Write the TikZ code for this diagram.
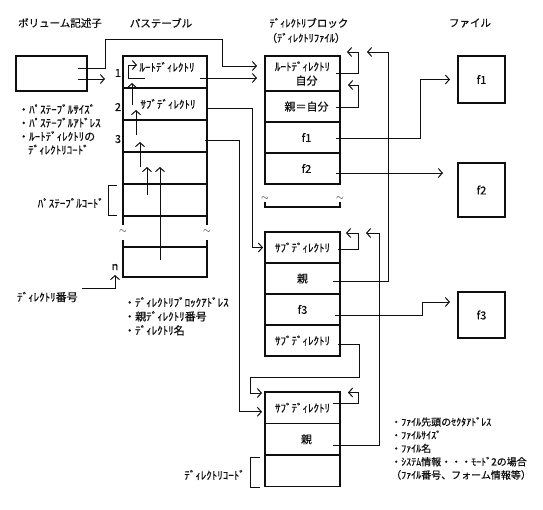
\documentclass[tikz,border=0pt]{standalone}
\usepackage{fontspec}
\setmainfont{Noto Sans CJK JP}[FakeBold=0.6, AutoFakeBold=0.6]
\usepackage{xcolor}
\usepackage{tikz}
\usetikzlibrary{arrows.meta, positioning, calc}
\definecolor{inkblack}{RGB}{15,15,15}
\newcommand{\lblfont}{\fontsize{11}{13.5}\selectfont\bfseries}
\newcommand{\titlefont}{\fontsize{10.5}{13}\selectfont\bfseries}
\tikzset{
  rim/.style={draw=inkblack, line width=1.1pt},
  tbl/.style={rim, shape=rectangle, outer sep=0pt, inner sep=0pt,
    text=inkblack, font=\lblfont},
  ptrow/.style={tbl, minimum width=84pt, minimum height=32pt},
  dirrow/.style={tbl, minimum width=75pt, minimum height=31pt},
  filebox/.style={tbl, minimum width=47pt, minimum height=47pt},
  title/.style={font=\titlefont, text=inkblack, inner sep=0pt},
  lbl/.style={font=\lblfont, text=inkblack, inner sep=0pt},
  notes/.style={lbl, align=left, anchor=north west},
  squig/.style={inner sep=0pt, text=inkblack},
  link/.style={line width=1pt, color=inkblack},
  ptr/.style={link, -{Straight Barb[length=4pt, width=9pt]}},
}

\begin{document}
\begin{tikzpicture}[x=1pt, y=-1pt]
  \useasboundingbox (0,0) rectangle (543,509);
  % headings
  \node[title] (hvol) at (60,23) {ボリューム記述子};
  \node[title] (hpt) at (161,23) {パステーブル};
  \node[title] (hdir) at (309,23) {ﾃﾞｨﾚｸﾄﾘブロック};
  \node[title] (hdirsub) at (306,38) {（ﾃﾞｨﾚｸﾄﾘﾌｧｲﾙ）};
  \node[title] (hfile) at (470,23) {ファイル};

  % volume descriptor
  \node[tbl, minimum width=71pt, minimum height=35pt, anchor=north west] (vol) at (16,56) {};
  \node[notes, font=\fontsize{11}{13.5}\selectfont\bfseries] (volnote) at (18,104)
    {・ﾊﾟｽﾃｰﾌﾞﾙｻｲｽﾞ\\・ﾊﾟｽﾃｰﾌﾞﾙｱﾄﾞﾚｽ\\・ﾙｰﾄﾃﾞｨﾚｸﾄﾘの\\\hspace*{10pt}ﾃﾞｨﾚｸﾄﾘｺｰﾄﾞ};

  % path table
  \node[ptrow, anchor=north west] (pt1) at (123,56) {};
  \node[ptrow, below=0pt of pt1] (pt2) {\hspace*{6pt}ｻﾌﾞﾃﾞｨﾚｸﾄﾘ};
  \node[ptrow, below=0pt of pt2] (pt3) {};
  \node[ptrow, below=0pt of pt3] (pt4) {};
  \node[ptrow, below=0pt of pt4] (pt5) {};
  \node[ptrow, minimum height=30pt, anchor=north west] (ptn) at (123,247) {};
  \node[lbl] (ptroot) at (167,67) {ﾙｰﾄﾃﾞｨﾚｸﾄﾘ};
  \draw[rim] (pt5.south west) -- ++(0,9);
  \draw[rim] (pt5.south east) -- ++(0,9);
  \draw[rim] (ptn.north west) -- ++(0,-7);
  \draw[rim] (ptn.north east) -- ++(0,-7);
  \node[squig] (sqa) at (123,232) {$\sim$};
  \node[squig] (sqb) at (207,232) {$\sim$};
  \node[lbl] (no1) at ($(pt1.west)+(-5,1)$) {1};
  \node[lbl] (no2) at ($(pt2.west)+(-5,3)$) {2};
  \node[lbl] (no3) at ($(pt3.west)+(-5,3)$) {3};
  \node[lbl] (non) at ($(ptn.south west)+(-8,-10)$) {n};
  \draw[rim, line width=1pt] ($(pt5.north west)+(-6,1)$) -- ++(-9,0) -- ++(0,30) -- ++(9,0);
  \node[lbl, anchor=east] (ptcode) at (104,203) {ﾊﾟｽﾃｰﾌﾞﾙｺｰﾄﾞ};
  \node[lbl, anchor=west] (dirnum) at (17,297) {ﾃﾞｨﾚｸﾄﾘ番号};
  \node[notes, font=\fontsize{11}{14}\selectfont\bfseries] (ptnote) at (124,297)
    {・ﾃﾞｨﾚｸﾄﾘﾌﾞﾛｯｸｱﾄﾞﾚｽ\\・親ﾃﾞｨﾚｸﾄﾘ番号\\・ﾃﾞｨﾚｸﾄﾘ名};

  % parent chain inside the path table
  \draw[ptr] ($(pt1.north west)+(22,22)$) -| ($(pt1.north west)+(5,9)$) -- ++(9,0);
  \draw[ptr] ($(pt2.north west)+(9,17)$) -- ($(pt1.south west)+(9,-5)$);
  \draw[ptr] ($(pt3.north west)+(13,15)$) -- ($(pt2.south west)+(13,-10)$);
  \draw[ptr] ($(pt4.north west)+(17,15)$) -- ($(pt3.south west)+(17,-10)$);
  \draw[ptr] ($(pt5.north west)+(24,11)$) -- ($(pt4.south west)+(24,-17)$);
  \draw[ptr] ($(ptn.north west)+(37,13)$) -- ($(pt4.south west)+(37,-17)$);
  \draw[ptr] ($(dirnum.east)+(4,-9)$) -| ($(ptn.south west)+(-8,-2)$);

  % directory blocks
  \node[dirrow, minimum height=35pt, align=center, anchor=north west,
    font=\fontsize{11}{14}\selectfont\bfseries] (dr1) at (265,56) {ﾙｰﾄﾃﾞｨﾚｸﾄﾘ\\\hspace*{8pt}自分};
  \node[dirrow, below=0pt of dr1] (dr2) {\hspace*{8pt}親＝自分};
  \node[dirrow, below=0pt of dr2] (dr3) {\hspace*{8pt}f1};
  \node[dirrow, below=0pt of dr3] (dr4) {\hspace*{8pt}f2};
  \node[squig] (sqc) at ($(dr4.south west)+(0,15)$) {$\sim$};
  \node[squig] (sqd) at ($(dr4.south east)+(0,15)$) {$\sim$};
  \draw[rim] ($(dr4.south west)+(0,18)$) -- ++(0,5) -| ($(dr4.south east)+(0,18)$);

  \node[dirrow, anchor=north west] (md1) at (265,232) {ｻﾌﾞﾃﾞｨﾚｸﾄﾘ};
  \node[dirrow, below=0pt of md1] (md2) {親};
  \node[dirrow, below=0pt of md2] (md3) {f3};
  \node[dirrow, below=0pt of md3] (md4) {ｻﾌﾞﾃﾞｨﾚｸﾄﾘ};

  \node[dirrow, minimum height=31.5pt, anchor=north west] (bt1) at (265,392) {ｻﾌﾞﾃﾞｨﾚｸﾄﾘ};
  \node[dirrow, minimum height=31.5pt, below=0pt of bt1] (bt2) {\hspace*{8pt}親};
  \node[dirrow, minimum height=31.5pt, below=0pt of bt2] (bt3) {};
  \draw[rim, line width=1pt] ($(bt3.north west)+(-5,2)$) -- ++(-10,0) -- ++(0,30) -- ++(10,0);
  \node[lbl, anchor=east] (dircode) at (245,475) {ﾃﾞｨﾚｸﾄﾘｺｰﾄﾞ};
  \node[notes, font=\fontsize{10}{13.25}\selectfont\bfseries] (filenote) at (391,417)
    {・ﾌｧｲﾙ先頭のｾｸﾀｱﾄﾞﾚｽ\\・ﾌｧｲﾙｻｲｽﾞ\\・ﾌｧｲﾙ名\\・ｼｽﾃﾑ情報・・・ﾓｰﾄﾞ2の場合\\（ﾌｧｲﾙ番号、フォーム情報等）};

  % files
  \node[filebox, anchor=north west] (file1) at (458,56) {f1};
  \node[filebox, minimum height=54pt, anchor=north west] (file2) at (458,163) {f2};
  \node[filebox, minimum height=46pt, anchor=north west] (file3) at (458,292) {f3};

  % pointers from descriptor and path table
  \draw[ptr] ($(vol.north east)+(-9,12)$) -- ++(27,0) -- ++(0,-29)
    -| ($(dr1.north west)+(-43,10)$) -- ($(dr1.north west)+(-8,10)$);
  \draw[ptr] ($(vol.north east)+(-9,23)$) -- ++(27,0);
  \draw[ptr] ($(pt1.north east)+(-7,22)$) -- ($(dr1.north west)+(-8,22)$);
  \draw[ptr] ($(pt2.east)+(0,4)$) -| ($(md1.west)+(-13,0)$) -- ($(md1.west)+(-2,0)$);
  \draw[ptr] ($(pt3.east)+(-2,4)$) -| ($(bt1.west)+(-26,4)$) -- ($(bt1.west)+(-3,4)$);

  % pointers between directory records
  \draw[ptr] ($(dr1.east)+(-4,0)$) -- ++(22,0) |- ($(dr1.north east)+(7,-4)$);
  \draw[ptr] ($(dr2.east)+(-4,0.5)$) -- ++(22,0) |- ($(dr2.north east)+(8,-6)$);
  \draw[ptr] ($(md1.east)+(-2,1.5)$) -- ++(20,0) |- ($(md1.north east)+(6,1)$);
  \draw[ptr] ($(md2.east)+(-7,2.5)$) -- ++(55,0) |- ($(dr1.north east)+(27,-4)$);
  \draw[ptr] ($(md4.east)+(-2,4)$) -- ++(21,0) -- ++(0,33)
    -| ($(bt1.north west)+(-15,1)$) -- ($(bt1.north west)+(-3,1)$);
  \draw[ptr] ($(bt1.east)+(-7,-4.75)$) -- ++(25,0) |- ($(bt1.north east)+(8,0.5)$);
  \draw[ptr] ($(bt2.east)+(-7,6)$) -- ++(46,0) |- ($(md1.north east)+(26,1)$);

  % pointers to files
  \draw[ptr] ($(dr3.east)+(-4,0.5)$) -| ($(file1.west)+(-38,0)$) -- ($(file1.west)+(-8,0)$);
  \draw[ptr] ($(dr4.east)+(-4,4.5)$) -- ($(file2.north west)+(-15,10)$);
  \draw[ptr] ($(md3.east)+(-5,5.5)$) -| ($(file3.north west)+(-36,10)$) -- ($(file3.north west)+(-8,10)$);
\end{tikzpicture}
\end{document}
